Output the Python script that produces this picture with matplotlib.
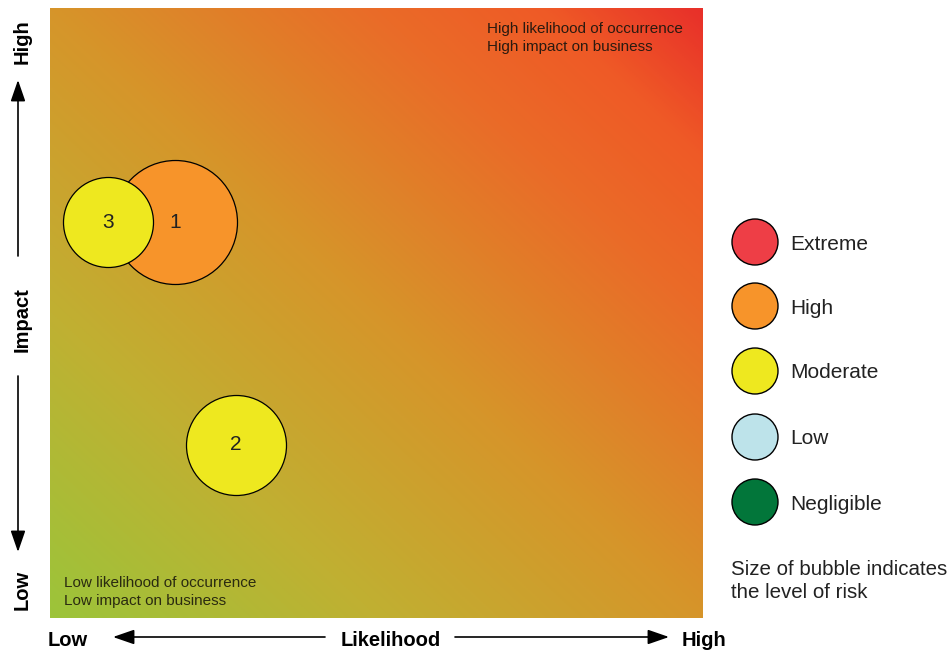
import numpy as np
import matplotlib.pyplot as plt
from matplotlib.colors import LinearSegmentedColormap
from matplotlib.patches import FancyArrowPatch, Circle

# risk bubbles (likelihood 0-10, impact 0-10, bubble radius in px)
risk_ids = ["1", "3", "2"]
likelihood = [1.91, 0.89, 2.85]
impact = [6.49, 6.49, 2.84]
risk_radius = [62, 45, 50]
risk_level = ["High", "Moderate", "Moderate"]

levels = ["Extreme", "High", "Moderate", "Low", "Negligible"]
level_colors = {
    "Extreme": "#ee3e46",
    "High": "#f7942a",
    "Moderate": "#eee81f",
    "Low": "#bde3ea",
    "Negligible": "#02763a",
}

W, H = 953, 653
plt.rcParams["font.family"] = ["Liberation Sans", "DejaVu Sans"]
fig = plt.figure(figsize=(W / 100, H / 100), dpi=100)


def fx(px):
    return px / W


def fy(py):
    return 1 - py / H


ax = fig.add_axes([fx(50), fy(618), fx(703) - fx(50), fy(8) - fy(618)])
ax.set_xlim(0, 10)
ax.set_ylim(0, 10)
ax.set_axis_off()

# background gradient, green bottom-left to red top-right
cmap = LinearSegmentedColormap.from_list(
    "risk",
    [(0.0, "#9cc43a"), (0.25, "#c0b032"), (0.5, "#d6952a"),
     (0.75, "#ea6b28"), (0.88, "#ef5a26"), (1.0, "#e8302a")],
)
gx, gy = np.meshgrid(np.linspace(0, 1, 300), np.linspace(0, 1, 300))
grad = (gx + gy) / 2
ax.imshow(grad, cmap=cmap, extent=[0, 10, 0, 10], origin="lower",
          aspect="auto", interpolation="bilinear", vmin=0, vmax=1, zorder=0)

# bubbles: radius px -> scatter size in pt^2
for rid, lx, iy, r, lvl in zip(risk_ids, likelihood, impact, risk_radius, risk_level):
    s = (2 * r * 0.72) ** 2
    ax.scatter([lx], [iy], s=s, color=level_colors[lvl], edgecolor="black",
               linewidth=0.9, zorder=3)
    ax.text(lx, iy, rid, ha="center", va="center", fontsize=15,
            color="#222222", zorder=4)

fig.text(fx(487), fy(38), "High likelihood of occurrence\nHigh impact on business",
         ha="left", va="center", fontsize=11, color="#2a1a10", linespacing=1.35)
fig.text(fx(64), fy(592), "Low likelihood of occurrence\nLow impact on business",
         ha="left", va="center", fontsize=11, color="#2a2a10", linespacing=1.3)

# legend
leg_y = [242, 306, 371, 437, 502]
for lvl, py in zip(levels, leg_y):
    fig.patches.append(Circle((755, H - py), 23, transform=None,
                              facecolor=level_colors[lvl],
                              edgecolor="black", linewidth=1.0))
    fig.text(fx(790), fy(py + 2), lvl, ha="left", va="center", fontsize=15,
             color="#222222")
fig.text(fx(731), fy(581), "Size of bubble indicates\nthe level of risk",
         ha="left", va="center", fontsize=14.8, color="#222222", linespacing=1.3)

# axis labels and arrows
bold = dict(fontsize=14.5, fontweight="bold", color="black")
fig.text(fx(68), fy(641), "Low", ha="center", va="center", **bold)
fig.text(fx(391), fy(641), "Likelihood", ha="center", va="center", **bold)
fig.text(fx(704), fy(641), "High", ha="center", va="center", **bold)
fig.text(fx(22), fy(42), "High", ha="center", va="center", rotation=90, **bold)
fig.text(fx(22), fy(320), "Impact", ha="center", va="center", rotation=90, **bold)
fig.text(fx(22), fy(590), "Low", ha="center", va="center", rotation=90, **bold)

arrow = dict(arrowstyle="-|>,head_length=1.3,head_width=0.45", color="black",
             lw=1.2, shrinkA=0, shrinkB=0, mutation_scale=10,
             transform=fig.transFigure)
arrow_ends = [((325, 637), (113, 637)), ((455, 637), (669, 637)),
              ((18, 256), (18, 80)), ((18, 376), (18, 552))]
for (x0, y0), (x1, y1) in arrow_ends:
    fig.patches.append(FancyArrowPatch((fx(x0), fy(y0)), (fx(x1), fy(y1)), **arrow))

fig.savefig("out.png", dpi=100)
